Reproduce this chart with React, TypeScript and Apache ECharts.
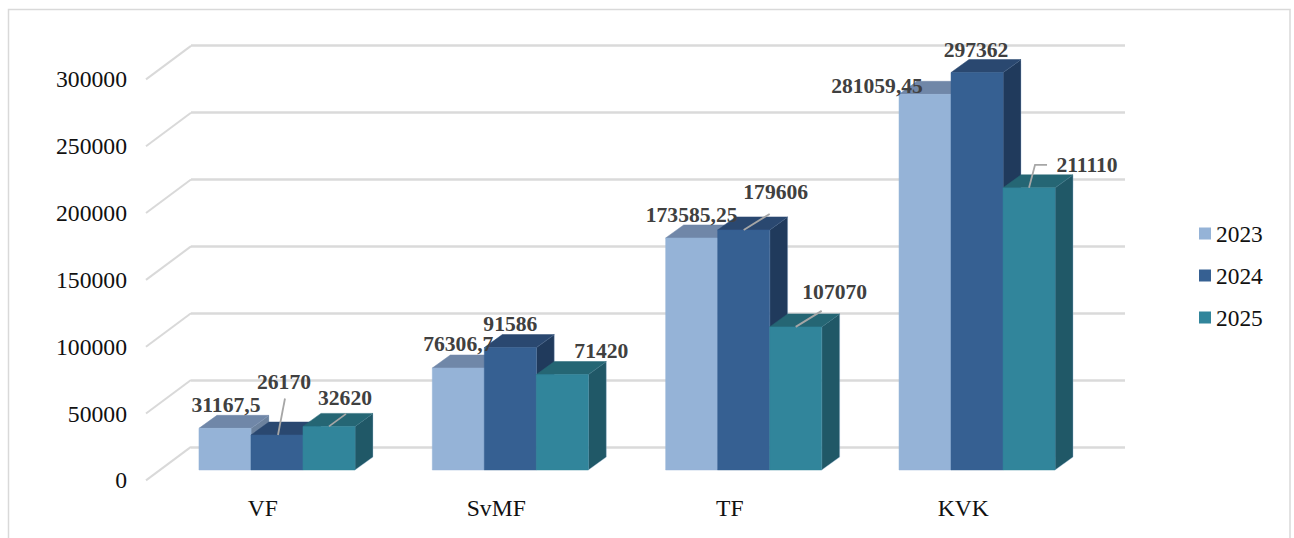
import React, { useEffect, useRef } from "react";
import * as echarts from "echarts";

const categories = ["VF", "SvMF", "TF", "KVK"];
const seriesNames = ["2023", "2024", "2025"];
const values2023 = [31167.5, 76306.7, 173585.25, 281059.45];
const values2024 = [26170, 91586, 179606, 297362];
const values2025 = [32620, 71420, 107070, 211110];
const yTicks = [0, 50000, 100000, 150000, 200000, 250000, 300000];

const FONT = '"Liberation Serif", "Times New Roman", serif';
const DEPTH_X = 18;
const DEPTH_Y = -13;
const BAR_RATIO = 52 / 233.33;
const faceColors = [
  { front: "#95B3D7", top: "#7087A8", side: "#6C829E" },
  { front: "#366092", top: "#2A4870", side: "#203A5C" },
  { front: "#31859B", top: "#256674", side: "#205867" },
];
// Hand-placed label centres, relative to the top-centre of the front face
const labelOffsets = [
  [[1, -23.7], [0, -24.2], [0, -22.7], [-48, -8.7]],
  [[7, -53.2], [0, -23.7], [32, -37.7], [-1, -22.7]],
  [[16, -28.7], [39, -23.7], [39, -34.7], [58, -22.7]],
];
const leaders: number[][][][] = [
  [[], [], [], []],
  [[[8, -36.5], [1, 0]], [], [[26, -16], [0, 0]], []],
  [[[17, -12.5], [0, 0]], [], [[26, -16], [0, 0]], [[18, -23], [6, -23], [0, 0]]],
];

const seriesValues = [values2023, values2024, values2025];

function barRender(si: number) {
  return (params: any, api: any) => {
    const cat = api.value(0);
    const val = api.value(1);
    const [cx] = api.coord([cat, 0]);
    const [, y0] = api.coord([cat, 0]);
    const [, y1] = api.coord([cat, val]);
    const w = api.size([1, 0])[0] * BAR_RATIO;
    const xc = cx + (si - 1) * w;
    const xl = xc - w / 2;
    const xr = xc + w / 2;
    const c = faceColors[si];
    const children: any[] = [
      {
        type: "polygon",
        shape: { points: [[xr, y1], [xr + DEPTH_X, y1 + DEPTH_Y], [xr + DEPTH_X, y0 + DEPTH_Y], [xr, y0]] },
        style: { fill: c.side, stroke: "rgba(170,195,225,0.35)", lineWidth: 1 },
      },
      {
        type: "polygon",
        shape: { points: [[xl, y1], [xl + DEPTH_X, y1 + DEPTH_Y], [xr + DEPTH_X, y1 + DEPTH_Y], [xr, y1]] },
        style: { fill: c.top, stroke: c.top, lineWidth: 0.5 },
      },
      {
        type: "rect",
        shape: { x: xl, y: y1, width: w, height: y0 - y1 },
        style: { fill: c.front, stroke: c.front, lineWidth: 0.5 },
      },
    ];
    const lead = leaders[si][cat];
    if (lead.length) {
      children.push({
        type: "polyline",
        z2: 20,
        shape: { points: lead.map(([dx, dy]) => [xc + dx, y1 + dy]) },
        style: { fill: "none", stroke: "#A6A6A6", lineWidth: 1.8 },
      });
    }
    const [ldx, ldy] = labelOffsets[si][cat];
    children.push({
      type: "text",
      z2: 30,
      x: xc + ldx,
      y: y1 + ldy,
      style: {
        text: String(val).replace(".", ","),
        fill: "#404040",
        font: `bold 21.6px ${FONT}`,
        align: "center",
        verticalAlign: "middle",
      },
    });
    return { type: "group", children };
  };
}

function tickRender(params: any, api: any) {
  const v = api.value(0);
  const p = api.coord([0, v]);
  const x = p[0] - api.size([1, 0])[0] / 2;
  return {
    type: "line",
    shape: { x1: x, y1: p[1], x2: x + 45, y2: p[1] - 33.5 },
    style: { stroke: "#D9D9D9", lineWidth: 2 },
  };
}

export default function App() {
  const ref = useRef<HTMLDivElement>(null);
  useEffect(() => {
    const chart = echarts.init(ref.current!, undefined, { renderer: "svg" });
    chart.setOption({
      animation: false,
      backgroundColor: "#FFFFFF",
      textStyle: { fontFamily: FONT },
      grid: [
        { left: 191, top: 45.3, width: 934, height: 401.5 },
        { left: 146, top: 79.4, width: 934, height: 401 },
        { left: 160.3, top: 69, width: 933.4, height: 401 },
      ],
      xAxis: [
        { gridIndex: 0, type: "category", data: categories, show: false },
        {
          gridIndex: 1,
          type: "category",
          data: categories,
          axisLine: { show: false },
          axisTick: { show: false },
          axisLabel: { color: "#111", fontSize: 23.6, fontFamily: FONT, margin: 16 },
        },
        { gridIndex: 2, type: "category", data: categories, show: false },
      ],
      yAxis: [
        {
          gridIndex: 0,
          type: "value",
          min: 0,
          max: 300000,
          interval: 50000,
          axisLine: { show: false },
          axisTick: { show: false },
          axisLabel: { show: false },
          splitLine: { show: true, lineStyle: { color: "#DADADA", width: 2.5 } },
        },
        {
          gridIndex: 1,
          type: "value",
          min: 0,
          max: 300000,
          interval: 50000,
          axisLine: { show: false },
          axisTick: { show: false },
          splitLine: { show: false },
          axisLabel: {
            color: "#111",
            fontSize: 23.7,
            fontFamily: FONT,
            margin: 19,
            formatter: (v: number) => String(v),
          },
        },
        { gridIndex: 2, type: "value", min: 0, max: 300000, interval: 50000, show: false, splitLine: { show: false } },
      ],
      legend: {
        orient: "vertical",
        left: 1194,
        top: 217,
        icon: "rect",
        itemWidth: 12,
        itemHeight: 12,
        itemGap: 19,
        data: seriesNames,
        textStyle: { color: "#111", fontSize: 23.4, fontFamily: FONT, lineHeight: 23 },
      },
      series: [
        {
          type: "custom",
          xAxisIndex: 1,
          yAxisIndex: 1,
          silent: true,
          z: 1,
          data: yTicks.map((v) => [v]),
          encode: { y: 0 },
          renderItem: tickRender,
        },
        ...seriesNames.map((name, si) => ({
          type: "custom",
          name,
          xAxisIndex: 2,
          yAxisIndex: 2,
          itemStyle: { color: faceColors[si].front },
          data: seriesValues[si].map((v, i) => [i, v]),
          encode: { x: 0, y: 1 },
          renderItem: barRender(si),
        })),
      ],
      graphic: [
        {
          type: "polyline",
          silent: true,
          shape: { points: [[8.5, 538], [8.5, 9.5], [1290, 9.5], [1290, 538]] },
          style: { fill: "none", stroke: "#D9D9D9", lineWidth: 1.5 },
        },
      ],
    });
    return () => chart.dispose();
  }, []);
  return <div ref={ref} style={{ position: "absolute", left: 0, top: 0, width: 1294, height: 538 }} />;
}
